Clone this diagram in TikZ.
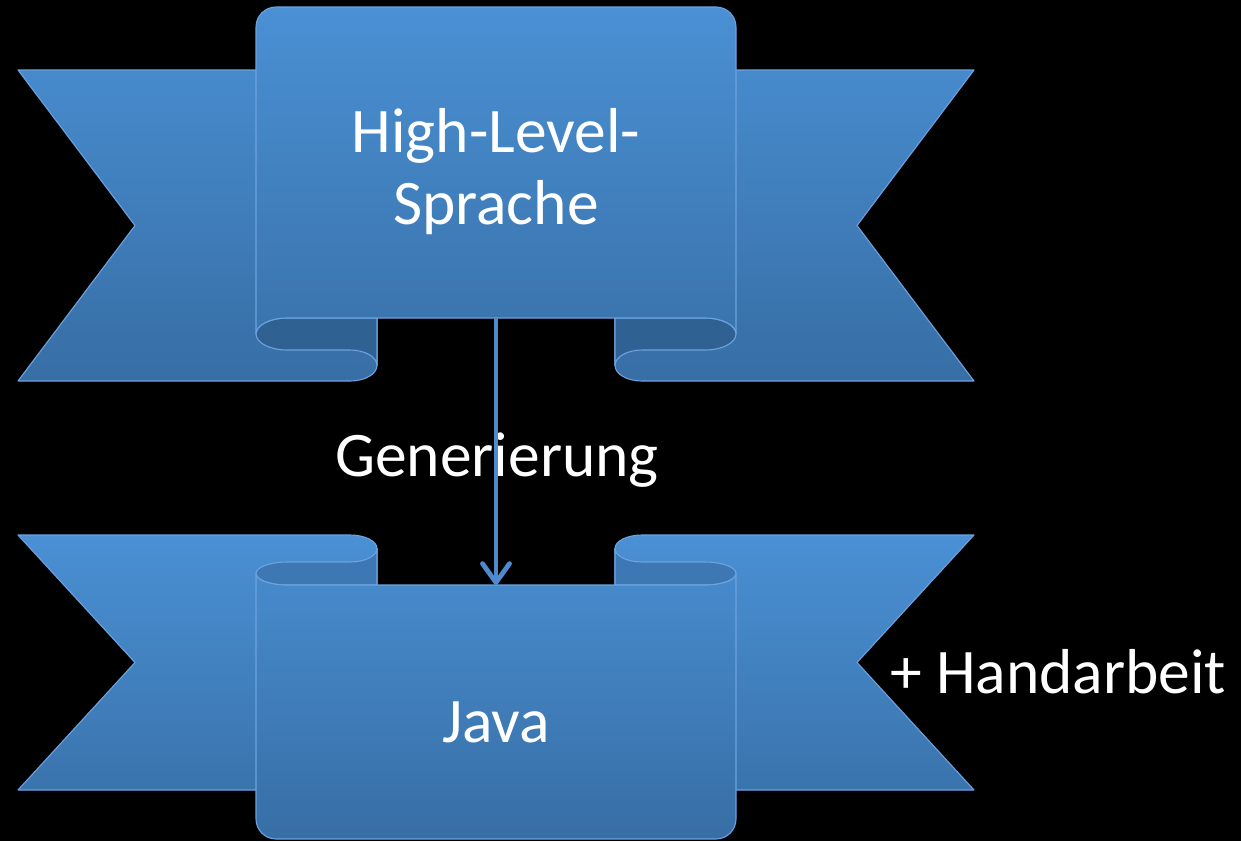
\documentclass[tikz,border=0pt]{standalone}
\usepackage{fontspec}
\setmainfont{Carlito}
\usetikzlibrary{arrows.meta}

\definecolor{ribLight}{RGB}{74,144,212}
\definecolor{ribDark}{RGB}{55,110,165}
\definecolor{foldTop}{RGB}{48,97,147}
\definecolor{foldBot}{RGB}{61,120,180}
\definecolor{ribEdge}{RGB}{108,162,224}
\definecolor{arrowBlue}{RGB}{78,138,206}

\begin{document}
\begin{tikzpicture}[x=1pt, y=-1pt,
  ribpart/.style={draw=ribEdge, line width=1.1pt, line join=round},
  label/.style={text=white, inner sep=0pt, font=\fontsize{63.5}{76}\selectfont},
  flow/.style={draw=arrowBlue, line width=4.8pt,
    -{Straight Barb[length=19pt, width=27pt, round]}}]

% canvas
\fill[black] (0,0) rectangle (1241,841);
\useasboundingbox (0,0) rectangle (1241,841);

% ---------- upper ribbon (curls at the bottom) ----------
% wings
\path[ribpart, top color=ribDark!17!ribLight, bottom color=ribDark]
  (18,70) -- (377,70) -- (377,365.5)
  arc[start angle=0, end angle=90, x radius=27, y radius=15.5]
  -- (18,381) -- (135,225.5) -- cycle;
\path[ribpart, top color=ribDark!17!ribLight, bottom color=ribDark]
  (974,70) -- (615,70) -- (615,365.5)
  arc[start angle=180, end angle=90, x radius=27, y radius=15.5]
  -- (974,381) -- (857,225.5) -- cycle;
% inner sides of the curls
\path[ribpart, fill=foldTop]
  (377,318) -- (287,318)
  arc[start angle=-90, end angle=-270, x radius=31, y radius=16]
  -- (350,350)
  arc[start angle=-90, end angle=0, x radius=27, y radius=15.5]
  -- cycle;
\path[ribpart, fill=foldTop]
  (615,318) -- (705,318)
  arc[start angle=-90, end angle=90, x radius=31, y radius=16]
  -- (642,350)
  arc[start angle=-90, end angle=-180, x radius=27, y radius=15.5]
  -- cycle;
% front panel
\path[ribpart, top color=ribLight, bottom color=ribDark!83!ribLight]
  (256,334) -- (256,27)
  arc[start angle=180, end angle=270, radius=20]
  -- (716,7)
  arc[start angle=270, end angle=360, radius=20]
  -- (736,334)
  arc[start angle=0, end angle=-90, x radius=31, y radius=16]
  -- (287,318)
  arc[start angle=-90, end angle=-180, x radius=31, y radius=16]
  -- cycle;

% ---------- lower ribbon (curls at the top) ----------
\path[ribpart, top color=ribLight, bottom color=ribDark!84!ribLight]
  (18,790) -- (377,790) -- (377,548.5)
  arc[start angle=0, end angle=-90, x radius=27, y radius=13.5]
  -- (18,535) -- (135,662.5) -- cycle;
\path[ribpart, top color=ribLight, bottom color=ribDark!84!ribLight]
  (974,790) -- (615,790) -- (615,548.5)
  arc[start angle=180, end angle=270, x radius=27, y radius=13.5]
  -- (974,535) -- (857,662.5) -- cycle;
\path[ribpart, fill=foldBot]
  (377,585) -- (287,585)
  arc[start angle=90, end angle=270, x radius=31, y radius=11.5]
  -- (350,562)
  arc[start angle=90, end angle=0, x radius=27, y radius=13.5]
  -- cycle;
\path[ribpart, fill=foldBot]
  (615,585) -- (705,585)
  arc[start angle=90, end angle=-90, x radius=31, y radius=11.5]
  -- (642,562)
  arc[start angle=90, end angle=180, x radius=27, y radius=13.5]
  -- cycle;
\path[ribpart, top color=ribDark!16!ribLight, bottom color=ribDark]
  (256,573.5) -- (256,819)
  arc[start angle=180, end angle=90, radius=20]
  -- (716,839)
  arc[start angle=90, end angle=0, radius=20]
  -- (736,573.5)
  arc[start angle=0, end angle=90, x radius=31, y radius=11.5]
  -- (287,585)
  arc[start angle=90, end angle=180, x radius=31, y radius=11.5]
  -- cycle;

% ---------- labels ----------
\node[label, anchor=base] (hlA) at (496,152) {High-Level-};
\node[label, anchor=base] (hlB) at (496,224) {Sprache};
\node[label, anchor=base] (gen) at (497,476) {Generierung};
\node[label, anchor=base] (java) at (496,742) {Java};
\node[label, anchor=base west] (hand) at (890,693) {+ Handarbeit};

% ---------- generation arrow ----------
\coordinate (srcFoot) at (496,318);
\coordinate (dstHead) at (496,585);
\draw[flow] (srcFoot) -- (dstHead);

\end{tikzpicture}
\end{document}
